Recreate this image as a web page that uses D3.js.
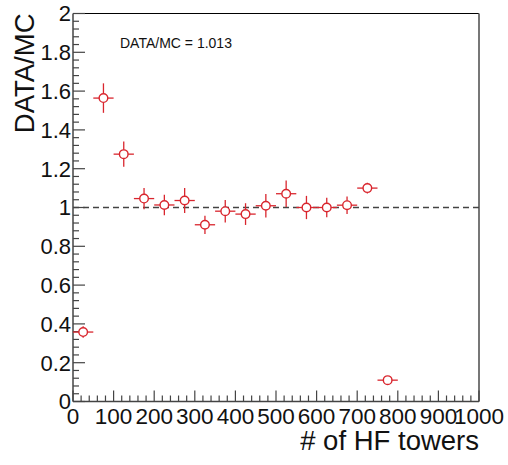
<!DOCTYPE html>
<html>
<head>
<meta charset="utf-8">
<script src="https://cdn.jsdelivr.net/npm/d3@7"></script>
<style>
  body { margin: 0; background: #fff; }
  svg { display: block; font-family: "Liberation Sans", Arial, sans-serif; }
</style>
</head>
<body>
<svg width="508" height="465"></svg>
<script>
// Data
const binCenters = [25, 75, 125, 175, 225, 275, 325, 375, 425, 475, 525, 575, 625, 675, 725, 775];
const ratio = [0.358, 1.564, 1.275, 1.046, 1.013, 1.036, 0.911, 0.981, 0.966, 1.009, 1.071, 1.0, 1.0, 1.012, 1.1, 0.11];
const ratioErr = [0.03, 0.076, 0.065, 0.055, 0.053, 0.064, 0.047, 0.058, 0.056, 0.06, 0.068, 0.06, 0.05, 0.045, 0.028, 0.01];
const binHalfWidth = 25;
const xTicks = [0, 100, 200, 300, 400, 500, 600, 700, 800, 900, 1000];
const yTicks = [0, 0.2, 0.4, 0.6, 0.8, 1, 1.2, 1.4, 1.6, 1.8, 2];
const meanRatio = 1.013;

const svg = d3.select("svg");
const padL = 73, padR = 479, padT = 13.5, padB = 401.5;
const red = "#d9262e";

const x = d3.scaleLinear().domain([0, 1000]).range([padL, padR]);
const y = d3.scaleLinear().domain([0, 2]).range([padB, padT]);

// Frame
svg.append("line").attr("x1", padL).attr("x2", padR).attr("y1", padT).attr("y2", padT)
  .attr("stroke", "#000").attr("stroke-width", 1.2);
svg.append("line").attr("x1", padR).attr("x2", padR).attr("y1", padT).attr("y2", padB)
  .attr("stroke", "#777").attr("stroke-width", 2);

// Axes (ROOT style: ticks inward)
const yAxis = svg.append("g").attr("transform", `translate(${padL},0)`);
yAxis.append("line").attr("x1", 0).attr("x2", 0).attr("y1", padT).attr("y2", padB)
  .attr("stroke", "#444").attr("stroke-width", 1.5);
const yMinor = d3.range(0, 51).map(i => i * 0.04);
yAxis.selectAll(".ymin").data(yMinor).join("line")
  .attr("x1", 0).attr("x2", (d, i) => i % 5 === 0 ? 12 : 6)
  .attr("y1", d => y(d)).attr("y2", d => y(d))
  .attr("stroke", "#444").attr("stroke-width", 1.2);
yAxis.selectAll(".ylab").data(yTicks).join("text")
  .attr("x", -2).attr("y", d => y(d)).attr("dy", "0.36em")
  .attr("text-anchor", "end").attr("font-size", 22).attr("fill", "#111")
  .text(d => d3.format("~g")(d));

const xAxis = svg.append("g").attr("transform", `translate(0,${padB})`);
xAxis.append("line").attr("x1", padL).attr("x2", padR).attr("y1", 0).attr("y2", 0)
  .attr("stroke", "#444").attr("stroke-width", 1.5);
const xMinor = d3.range(0, 51).map(i => i * 20);
xAxis.selectAll(".xmin").data(xMinor).join("line")
  .attr("x1", d => x(d)).attr("x2", d => x(d))
  .attr("y1", 0).attr("y2", (d, i) => i % 5 === 0 ? -11 : -6)
  .attr("stroke", "#444").attr("stroke-width", 1.2);
xAxis.selectAll(".xlab").data(xTicks).join("text")
  .attr("x", d => x(d)).attr("y", 22)
  .attr("text-anchor", "middle").attr("font-size", 22.5).attr("fill", "#111")
  .text(d => d);

// Axis titles
svg.append("text").attr("x", padR).attr("y", 450)
  .attr("text-anchor", "end").attr("font-size", 27.5).attr("fill", "#111")
  .text("# of HF towers");
svg.append("text").attr("transform", `translate(34,${padT}) rotate(-90)`)
  .attr("text-anchor", "end").attr("font-size", 27.5).attr("fill", "#111")
  .text("DATA/MC");

// Reference line at 1
svg.append("line").attr("x1", padL).attr("x2", padR).attr("y1", y(1)).attr("y2", y(1))
  .attr("stroke", "#444").attr("stroke-width", 1.3).attr("stroke-dasharray", "6,4");

// Annotation
svg.append("text").attr("x", 120).attr("y", 48)
  .attr("font-size", 14).attr("fill", "#111")
  .text("DATA/MC = " + meanRatio.toFixed(3));

// Points with error bars
const pts = binCenters.map((c, i) => ({ c, v: ratio[i], e: ratioErr[i] }));
const g = svg.append("g");
g.selectAll(".hbar").data(pts).join("line")
  .attr("x1", d => x(d.c - binHalfWidth)).attr("x2", d => x(d.c + binHalfWidth))
  .attr("y1", d => y(d.v)).attr("y2", d => y(d.v))
  .attr("stroke", red).attr("stroke-width", 1.3);
g.selectAll(".vbar").data(pts).join("line")
  .attr("x1", d => x(d.c)).attr("x2", d => x(d.c))
  .attr("y1", d => y(d.v - d.e)).attr("y2", d => y(d.v + d.e))
  .attr("stroke", red).attr("stroke-width", 1.3);
g.selectAll("circle").data(pts).join("circle")
  .attr("cx", d => x(d.c)).attr("cy", d => y(d.v)).attr("r", 4.3)
  .attr("fill", "#fff").attr("stroke", red).attr("stroke-width", 1.4);
</script>
</body>
</html>
